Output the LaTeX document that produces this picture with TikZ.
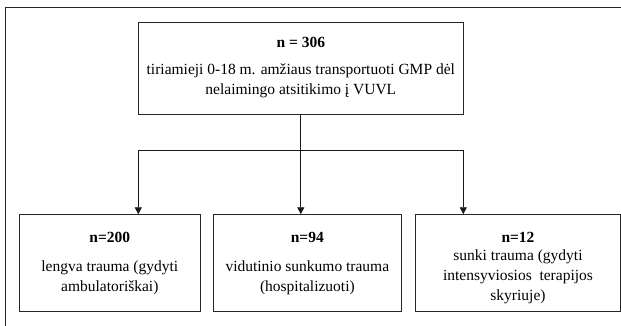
\documentclass[tikz,border=0pt]{standalone}
\usepackage{fontspec}
\setmainfont{Liberation Serif}
\usetikzlibrary{arrows.meta}
\begin{document}
\begin{tikzpicture}[x=1pt,y=-1pt,
  boxstyle/.style={draw=black!85,line width=0.9pt,rectangle,inner sep=0pt},
  titletext/.style={font=\fontsize{15.5}{17}\selectfont\bfseries,inner sep=0pt},
  bodytext/.style={font=\fontsize{15.5}{20}\selectfont,align=center,inner sep=0pt},
  conn/.style={draw=black!90,line width=0.9pt},
  arr/.style={conn,-{Triangle[length=7pt,width=7pt]}}]
\useasboundingbox (0,0) rectangle (621,326);
\draw[line width=0.9pt,black!85] (5.3,340) -- (5.3,7) -- (640,7);
% top box
\node[boxstyle,minimum width=325pt,minimum height=91.5pt] (top) at (300.8,68.5) {};
\node[titletext] (toptitle) at (300.8,42) {n = 306};
\node[bodytext] (topbody) at (300.8,81) {tiriamieji 0-18 m. amžiaus transportuoti GMP dėl\\nelaimingo atsitikimo į VUVL};
% lower boxes
\node[boxstyle,minimum width=181pt,minimum height=97pt] (b1) at (109.8,263.2) {};
\node[boxstyle,minimum width=187.3pt,minimum height=97pt] (b2) at (307.35,263.2) {};
\node[boxstyle,minimum width=204.6pt,minimum height=97pt] (b3) at (518,263.2) {};
\node[titletext] (t1) at (109.8,237) {n=200};
\node[titletext] (t2) at (307.35,237) {n=94};
\node[titletext] (t3) at (518,237) {n=12};
\node[bodytext] (d1) at (109.8,278) {lengva trauma (gydyti\\ambulatoriškai)};
\node[bodytext] (d2) at (307.35,278) {vidutinio sunkumo trauma\\(hospitalizuoti)};
\node[bodytext] (d3) at (518,277) {sunki trauma (gydyti\\intensyviosios\ \ terapijos\\skyriuje)};
% connectors
\coordinate (hl) at (138.3,150.3);
\coordinate (hr) at (463.3,150.3);
\coordinate (hm) at (top.south |- hl);
\draw[conn] (top.south) -- (hm);
\draw[conn] (hl) -- (hr);
\draw[arr] (hl) -- (hl |- b1.north);
\draw[arr] (hm) -- (hm |- b2.north);
\draw[arr] (hr) -- (hr |- b3.north);
\end{tikzpicture}
\end{document}
